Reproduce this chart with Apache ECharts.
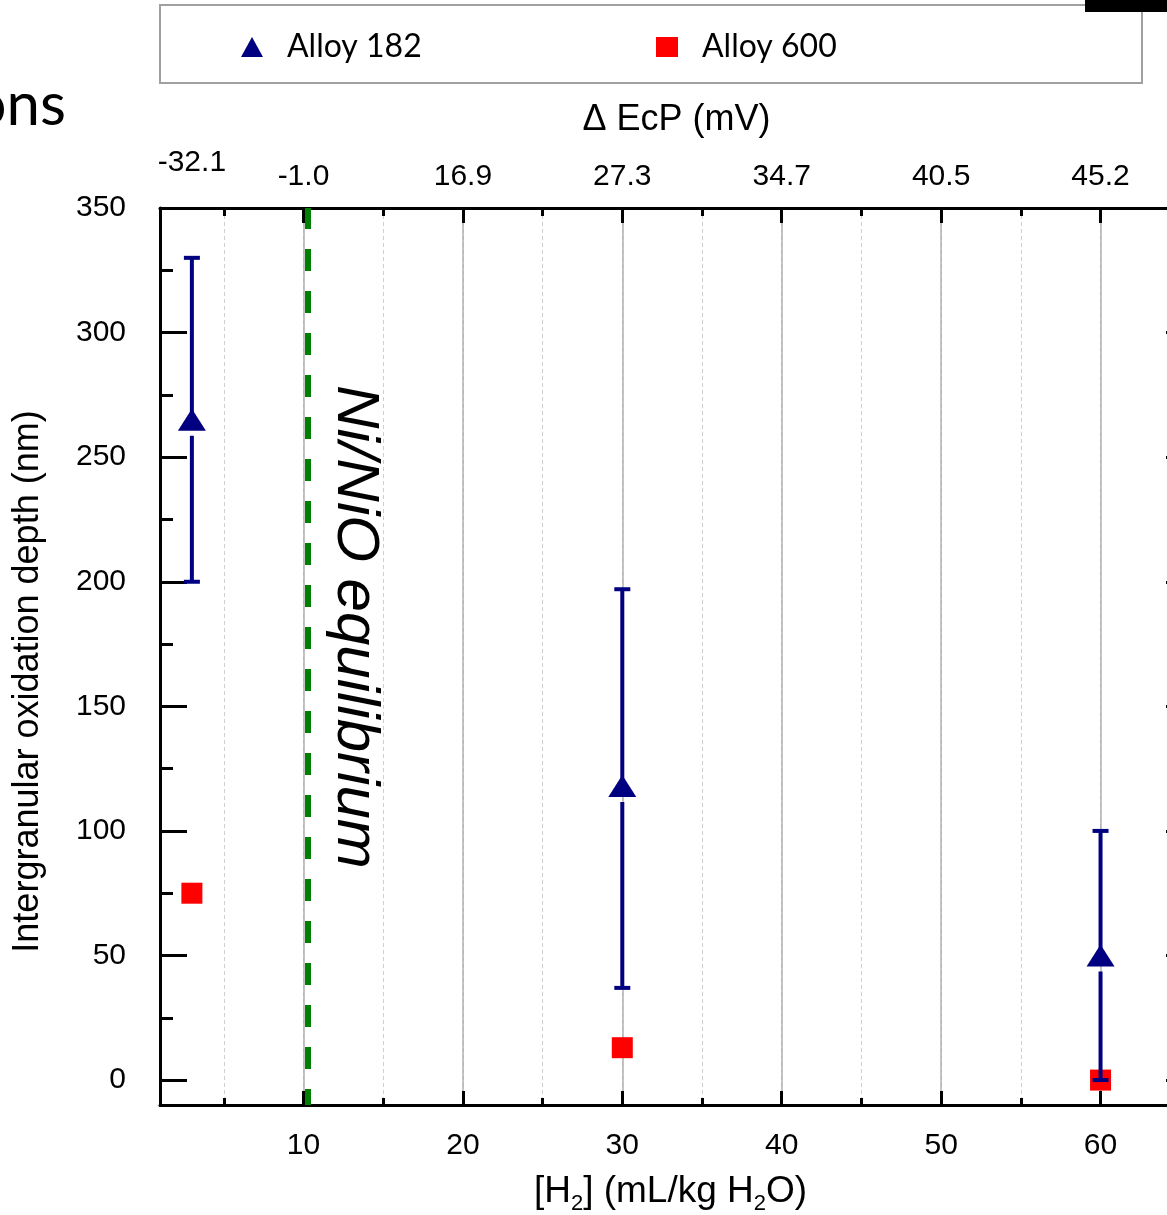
<!DOCTYPE html>
<html>
<head>
<meta charset="utf-8">
<script src="https://cdn.jsdelivr.net/npm/echarts@6/dist/echarts.min.js"></script>
<style>
html,body{margin:0;padding:0;background:#fff;}
#chart{width:1167px;height:1215px;}
</style>
</head>
<body>
<div id="chart"></div>
<script>
// ---- data ----
const h2 = [3, 30, 60];                       // [H2] mL/kg H2O
const alloy182Depth = [265, 118, 50];         // nm
const alloy182Low = [200, 37, 0];
const alloy182High = [330, 197, 100];
const alloy600Depth = [75, 13, 0];
const ecpTicksH2 = [3, 10, 20, 30, 40, 50, 60];
const ecpLabels = ['-32.1', '-1.0', '16.9', '27.3', '34.7', '40.5', '45.2'];
const niNiOH2 = 10.25;
const xMin = 1, xMax = 65.8, yMin = -10, yMax = 350;

const FONT = '"Liberation Sans", Arial, sans-serif';
const BLUE = '#000080', RED = '#ff0000';

const chart = echarts.init(document.getElementById('chart'), null, {renderer: 'canvas'});

function ecpLabel(v) {
  for (let i = 1; i < ecpTicksH2.length; i++) if (Math.abs(ecpTicksH2[i] - v) < 1e-6) return ecpLabels[i];
  return '';
}

const gridDef = {left: 160, top: 208, width: 1033, height: 897, containLabel: false, outerBoundsMode: 'none'};
const baseX = {type: 'value', min: xMin, max: xMax, gridIndex: 0};
const baseY = {type: 'value', min: yMin, max: yMax, gridIndex: 0};
const LBL = 30;

const option = {
  backgroundColor: '#ffffff',
  animation: false,
  grid: gridDef,
  legend: {
    left: 160, top: 5,
    orient: 'horizontal',
    data: ['Alloy 182', 'Alloy 600'],
    selectedMode: false,
    itemWidth: 22, itemHeight: 20,
    itemGap: 219,
    padding: [24, 290, 18, 81],
    borderColor: '#a0a0a0', borderWidth: 2,
    backgroundColor: '#ffffff',
    textStyle: {fontFamily: 'Lato, "Open Sans", sans-serif', fontSize: 32, color: '#000', width: 150, lineHeight: 36, padding: [0, 0, 0, 19]}
  },
  xAxis: [
    Object.assign({}, baseX, { // minor bottom
      position: 'bottom', minInterval: 5, maxInterval: 5, splitNumber: 13,
      axisLine: {show: false, onZero: false},
      axisTick: {show: true, inside: true, length: 7, lineStyle: {color: '#000', width: 3}},
      axisLabel: {show: false},
      splitLine: {show: true, lineStyle: {color: '#cfcfcf', width: 1, type: [4, 3]}}
    }),
    Object.assign({}, baseX, { // major bottom (data axis)
      position: 'bottom', minInterval: 10, maxInterval: 10, splitNumber: 6,
      axisLine: {show: true, onZero: false, lineStyle: {color: '#000', width: 3}},
      axisTick: {show: true, inside: true, length: 14, lineStyle: {color: '#000', width: 3}},
      axisLabel: {show: true, margin: 26, fontFamily: FONT, fontSize: LBL, color: '#000',
        formatter: v => (Math.abs(v % 10) < 1e-6 && v > 0) ? String(v) : ''},
      splitLine: {show: true, lineStyle: {color: '#b0b0b0', width: 1.5}},
      name: '[H{sub|2}] (mL/kg H{sub|2}O)',
      nameLocation: 'middle', nameGap: 64,
      nameTextStyle: {fontFamily: FONT, fontSize: 37, color: '#000', padding: [0, 12, 0, 0],
        rich: {sub: {fontFamily: FONT, fontSize: 22, color: '#000', padding: [24, 0, 0, 0]}}}
    }),
    Object.assign({}, baseX, { // minor top
      position: 'top', minInterval: 5, maxInterval: 5, splitNumber: 13,
      axisLine: {show: false, onZero: false},
      axisTick: {show: true, inside: true, length: 8, lineStyle: {color: '#000', width: 3}},
      axisLabel: {show: false},
      splitLine: {show: false}
    }),
    Object.assign({}, baseX, { // major top (Delta EcP)
      position: 'top', minInterval: 10, maxInterval: 10, splitNumber: 6,
      axisLine: {show: true, onZero: false, lineStyle: {color: '#000', width: 3}},
      axisTick: {show: true, inside: true, length: 15, lineStyle: {color: '#000', width: 3}},
      axisLabel: {show: true, margin: 16, fontFamily: FONT, fontSize: LBL, color: '#000', formatter: ecpLabel},
      splitLine: {show: false},
      name: '\u0394 EcP (mV)',
      nameLocation: 'middle', nameGap: 70,
      nameTextStyle: {fontFamily: FONT, fontSize: 36, color: '#000'}
    }),
    Object.assign({}, baseX, { // extra top label at first data point
      position: 'top', offset: 14,
      axisLine: {show: false, onZero: false},
      axisTick: {show: false},
      axisLabel: {show: true, margin: 16, fontFamily: FONT, fontSize: LBL, color: '#000',
        customValues: [ecpTicksH2[0]], formatter: () => ecpLabels[0]},
      splitLine: {show: false}
    })
  ],
  yAxis: [
    Object.assign({}, baseY, { // minor left
      position: 'left', minInterval: 25, maxInterval: 25, splitNumber: 14,
      axisLine: {show: false, onZero: false},
      axisTick: {show: true, inside: true, length: 13, lineStyle: {color: '#000', width: 3}},
      axisLabel: {show: false},
      splitLine: {show: false}
    }),
    Object.assign({}, baseY, { // major left (data axis)
      position: 'left', minInterval: 50, maxInterval: 50, splitNumber: 7,
      axisLine: {show: true, onZero: false, lineStyle: {color: '#000', width: 3}},
      axisTick: {show: true, inside: true, length: 27, lineStyle: {color: '#000', width: 3}},
      axisLabel: {show: true, margin: 34, fontFamily: FONT, fontSize: LBL, color: '#000',
        formatter: v => (v >= 0 && Math.abs(v % 50) < 1e-6) ? String(v) : ''},
      splitLine: {show: false},
      name: 'Intergranular oxidation depth (nm)',
      nameLocation: 'middle', nameGap: 114,
      nameTextStyle: {fontFamily: FONT, fontSize: 36, color: '#000', padding: [0, 50, 0, 0]}
    }),
    Object.assign({}, baseY, { // right frame
      position: 'right', minInterval: 50, maxInterval: 50, splitNumber: 7,
      axisLine: {show: true, onZero: false, lineStyle: {color: '#000', width: 3}},
      axisTick: {show: true, inside: true, length: 27, lineStyle: {color: '#000', width: 3}},
      axisLabel: {show: false},
      splitLine: {show: false}
    })
  ],
  series: [
    {
      name: 'Alloy 600', type: 'scatter', xAxisIndex: 1, yAxisIndex: 1,
      symbol: 'rect', symbolSize: 21,
      itemStyle: {color: RED, opacity: 1},
      data: h2.map((x, i) => [x, alloy600Depth[i]]),
      markLine: {
        silent: true, symbol: ['none', 'none'],
        label: {show: false},
        lineStyle: {color: '#008000', width: 6, type: [22, 20], dashOffset: 6, opacity: 1},
        data: [{xAxis: niNiOH2}]
      },
      z: 3
    },
    {
      name: 'errorbars', type: 'custom', xAxisIndex: 1, yAxisIndex: 1,
      data: h2.map((x, i) => [x, alloy182Low[i], alloy182High[i], alloy182Depth[i]]),
      encode: {x: 0, y: [1, 2, 3]},
      renderItem: function (params, api) {
        const x = api.value(0);
        const pL = api.coord([x, api.value(1)]);
        const pH = api.coord([x, api.value(2)]);
        const pM = api.coord([x, api.value(3)]);
        const cap = 8, gap = 16;
        const st = {stroke: BLUE, lineWidth: 4, fill: null};
        const kids = [
          {type: 'line', shape: {x1: pH[0], y1: pH[1], x2: pM[0], y2: pM[1]}, style: st},
          {type: 'line', shape: {x1: pH[0] - cap, y1: pH[1], x2: pH[0] + cap, y2: pH[1]}, style: st},
          {type: 'line', shape: {x1: pL[0] - cap, y1: pL[1], x2: pL[0] + cap, y2: pL[1]}, style: st}
        ];
        if (pL[1] > pM[1] + gap) {
          kids.push({type: 'line', shape: {x1: pM[0], y1: pM[1] + gap, x2: pL[0], y2: pL[1]}, style: st});
        }
        return {type: 'group', children: kids};
      },
      z: 4
    },
    {
      name: 'Alloy 182', type: 'scatter', xAxisIndex: 1, yAxisIndex: 1,
      symbol: 'triangle', symbolSize: [28, 22],
      itemStyle: {color: BLUE, opacity: 1},
      data: h2.map((x, i) => [x, alloy182Depth[i]]),
      z: 5
    }
  ],
  graphic: [
    {type: 'text', x: 66, y: 106, z: 10,
      style: {text: 'ons', fontFamily: 'Lato, "Open Sans", sans-serif', fontSize: 60, fill: '#000', align: 'right', verticalAlign: 'middle'}},
    {type: 'rect', shape: {x: 1085, y: 0, width: 90, height: 12}, style: {fill: '#000'}, z: 10},
    {type: 'text', x: 355, y: 627, rotation: -Math.PI / 2, z: 10,
      style: {text: 'Ni/NiO equilibrium', fontFamily: FONT, fontStyle: 'italic', fontSize: 60, fill: '#000', align: 'center', verticalAlign: 'middle'}}
  ]
};
chart.setOption(option);
</script>
</body>
</html>
